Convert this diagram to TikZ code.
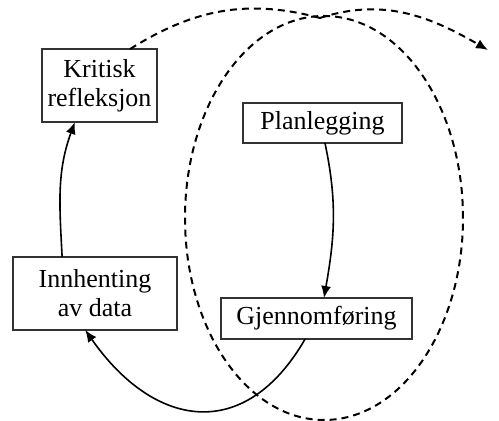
\documentclass[tikz,border=0pt]{standalone}
\usepackage{fontspec}
\setmainfont{Liberation Serif}
\usetikzlibrary{arrows.meta,positioning}

\begin{document}
\begin{tikzpicture}
  [x=0.5pt,y=0.5pt,>={Latex[length=6pt,width=5pt]},
  every node/.style={font=\fontsize{13}{14.5}\selectfont},
  stage/.style={draw=black!80,line width=1pt,align=center,inner sep=0pt,outer sep=0pt},
  flow/.style={->,line width=0.8pt},
  spiral/.style={line width=1pt,dash pattern=on 3.5pt off 2.5pt}]
  \useasboundingbox (0,0) rectangle (499,421);
  % the four stages
  \node [stage,minimum width=57.5pt,minimum height=36.5pt] (krit) at (99.5,335.5) {Kritisk\\refleksjon};
  \node [stage,minimum width=79.5pt,minimum height=20pt] (plan) at (322.5,298) {Planlegging};
  \node [stage,minimum width=95.5pt,minimum height=20.5pt] (gjen) at (316.5,102.5) {Gjennomføring};
  \node [stage,minimum width=82pt,minimum height=36.5pt] (innh) at (95,127.5) {Innhenting\\av data};
  \coordinate (meet) at (320,403);
  \coordinate (next) at (488,371);
  % one cycle
  \draw [flow] (plan.-83) to [out=-78,in=80] (gjen.70);
  \draw [flow] (gjen.241) to [out=240,in=305,looseness=1.4] (innh.255);
  \draw [flow] (innh.132) to [out=93,in=250] (krit.236);
  % the next cycle
  \draw [spiral] (324,203) ellipse [x radius=69.5pt,y radius=101pt];
  \draw [spiral] (krit.50) to [out=32,in=165] (meet);
  \draw [spiral,->] (meet) to [out=18,in=150] (next);
\end{tikzpicture}
\end{document}
